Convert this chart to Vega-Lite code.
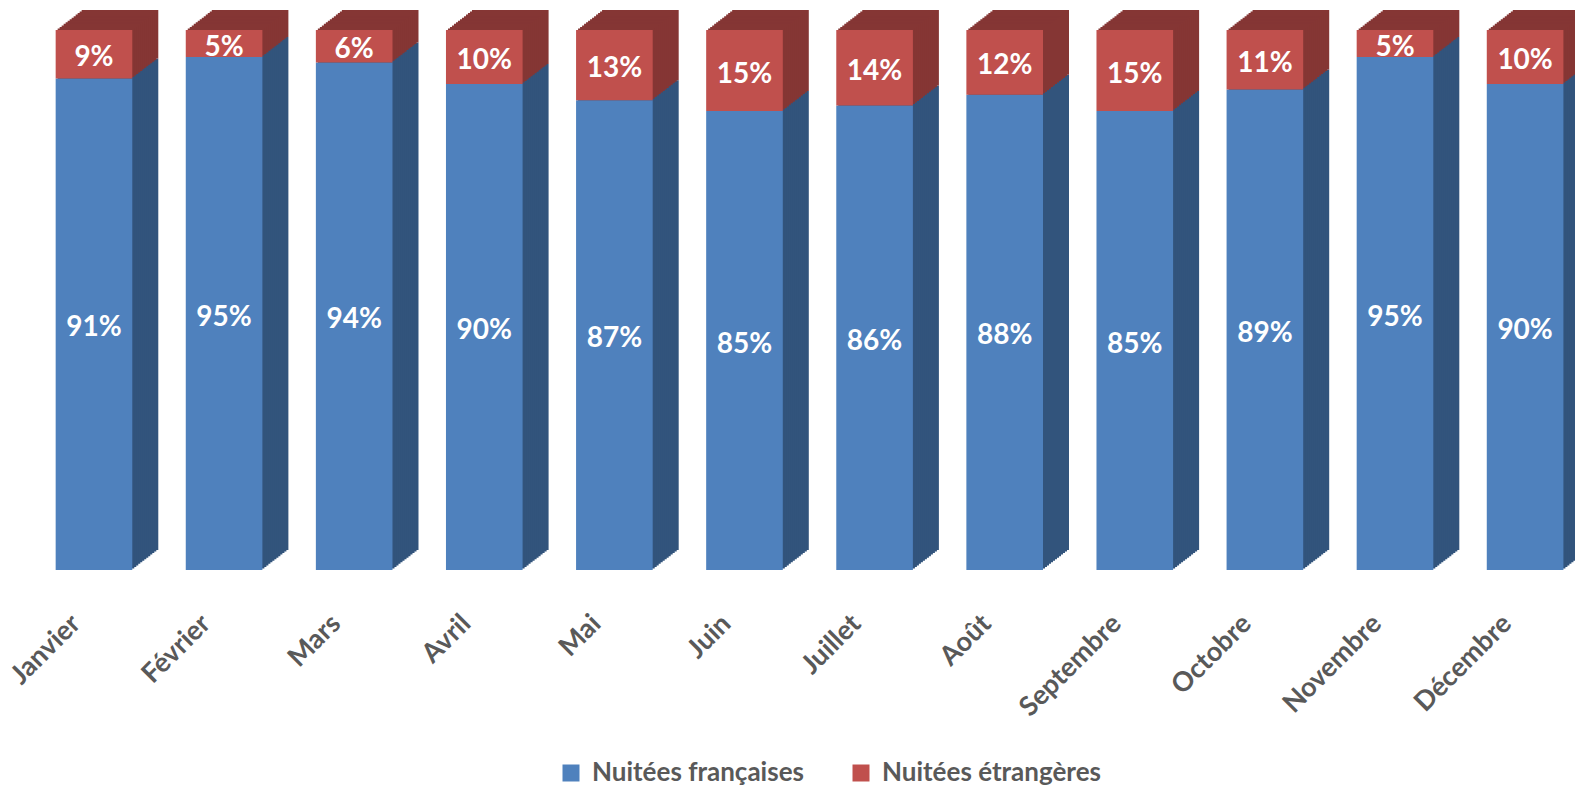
{
  "$schema": "https://vega.github.io/schema/vega-lite/v6.json",
  "autosize": "none",
  "width": 1546,
  "height": 540,
  "padding": {"left": 29, "top": 30, "right": 0, "bottom": 217},
  "background": "white",
  "config": {"view": {"stroke": null}},
  "data": {"values": [
    {"mois": "Janvier", "serie": "Nuitées françaises", "pct": 0.91},
    {"mois": "Janvier", "serie": "Nuitées étrangères", "pct": 0.09},
    {"mois": "Février", "serie": "Nuitées françaises", "pct": 0.95},
    {"mois": "Février", "serie": "Nuitées étrangères", "pct": 0.05},
    {"mois": "Mars", "serie": "Nuitées françaises", "pct": 0.94},
    {"mois": "Mars", "serie": "Nuitées étrangères", "pct": 0.06},
    {"mois": "Avril", "serie": "Nuitées françaises", "pct": 0.90},
    {"mois": "Avril", "serie": "Nuitées étrangères", "pct": 0.10},
    {"mois": "Mai", "serie": "Nuitées françaises", "pct": 0.87},
    {"mois": "Mai", "serie": "Nuitées étrangères", "pct": 0.13},
    {"mois": "Juin", "serie": "Nuitées françaises", "pct": 0.85},
    {"mois": "Juin", "serie": "Nuitées étrangères", "pct": 0.15},
    {"mois": "Juillet", "serie": "Nuitées françaises", "pct": 0.86},
    {"mois": "Juillet", "serie": "Nuitées étrangères", "pct": 0.14},
    {"mois": "Août", "serie": "Nuitées françaises", "pct": 0.88},
    {"mois": "Août", "serie": "Nuitées étrangères", "pct": 0.12},
    {"mois": "Septembre", "serie": "Nuitées françaises", "pct": 0.85},
    {"mois": "Septembre", "serie": "Nuitées étrangères", "pct": 0.15},
    {"mois": "Octobre", "serie": "Nuitées françaises", "pct": 0.89},
    {"mois": "Octobre", "serie": "Nuitées étrangères", "pct": 0.11},
    {"mois": "Novembre", "serie": "Nuitées françaises", "pct": 0.95},
    {"mois": "Novembre", "serie": "Nuitées étrangères", "pct": 0.05},
    {"mois": "Décembre", "serie": "Nuitées françaises", "pct": 0.90},
    {"mois": "Décembre", "serie": "Nuitées étrangères", "pct": 0.10}
  ]},
  "encoding": {
    "x": {
      "field": "mois", "type": "nominal",
      "sort": ["Janvier","Février","Mars","Avril","Mai","Juin","Juillet","Août","Septembre","Octobre","Novembre","Décembre"],
      "scale": {"paddingInner": 0.411, "paddingOuter": 0.147, "align": 0.697},
      "axis": {"title": null, "domain": false, "ticks": false, "labelAngle": -45, "labelFont": "Lato", "labelFontSize": 27, "labelFontWeight": "bold", "labelColor": "#595959", "labelPadding": 40, "labelOffset": -27, "labelLimit": 0}
    },
    "y": {"field": "pct", "type": "quantitative", "stack": "zero", "scale": {"domain": [0, 1], "nice": false}, "axis": null},
    "detail": {"field": "serie"},
    "order": {"field": "serie", "sort": "ascending"}
  },
  "layer": [
    {"mark": {"type": "bar", "xOffset": 26, "yOffset": -20}, "encoding": {"color": {"condition": {"test": "datum.serie === 'Nuitées étrangères'", "value": "#853634"}, "value": "#32547C"}}},
    {"mark": {"type": "bar", "xOffset": 24, "yOffset": -18.46}, "encoding": {"color": {"condition": {"test": "datum.serie === 'Nuitées étrangères'", "value": "#853634"}, "value": "#32547C"}}},
    {"mark": {"type": "bar", "xOffset": 22, "yOffset": -16.92}, "encoding": {"color": {"condition": {"test": "datum.serie === 'Nuitées étrangères'", "value": "#853634"}, "value": "#32547C"}}},
    {"mark": {"type": "bar", "xOffset": 20, "yOffset": -15.38}, "encoding": {"color": {"condition": {"test": "datum.serie === 'Nuitées étrangères'", "value": "#853634"}, "value": "#32547C"}}},
    {"mark": {"type": "bar", "xOffset": 18, "yOffset": -13.85}, "encoding": {"color": {"condition": {"test": "datum.serie === 'Nuitées étrangères'", "value": "#853634"}, "value": "#32547C"}}},
    {"mark": {"type": "bar", "xOffset": 16, "yOffset": -12.31}, "encoding": {"color": {"condition": {"test": "datum.serie === 'Nuitées étrangères'", "value": "#853634"}, "value": "#32547C"}}},
    {"mark": {"type": "bar", "xOffset": 14, "yOffset": -10.77}, "encoding": {"color": {"condition": {"test": "datum.serie === 'Nuitées étrangères'", "value": "#853634"}, "value": "#32547C"}}},
    {"mark": {"type": "bar", "xOffset": 12, "yOffset": -9.23}, "encoding": {"color": {"condition": {"test": "datum.serie === 'Nuitées étrangères'", "value": "#853634"}, "value": "#32547C"}}},
    {"mark": {"type": "bar", "xOffset": 10, "yOffset": -7.69}, "encoding": {"color": {"condition": {"test": "datum.serie === 'Nuitées étrangères'", "value": "#853634"}, "value": "#32547C"}}},
    {"mark": {"type": "bar", "xOffset": 8, "yOffset": -6.15}, "encoding": {"color": {"condition": {"test": "datum.serie === 'Nuitées étrangères'", "value": "#853634"}, "value": "#32547C"}}},
    {"mark": {"type": "bar", "xOffset": 6, "yOffset": -4.62}, "encoding": {"color": {"condition": {"test": "datum.serie === 'Nuitées étrangères'", "value": "#853634"}, "value": "#32547C"}}},
    {"mark": {"type": "bar", "xOffset": 4, "yOffset": -3.08}, "encoding": {"color": {"condition": {"test": "datum.serie === 'Nuitées étrangères'", "value": "#853634"}, "value": "#32547C"}}},
    {"mark": {"type": "bar", "xOffset": 2, "yOffset": -1.54}, "encoding": {"color": {"condition": {"test": "datum.serie === 'Nuitées étrangères'", "value": "#853634"}, "value": "#32547C"}}},
    {
      "mark": {"type": "bar"},
      "encoding": {
        "color": {
          "field": "serie", "type": "nominal",
          "scale": {"domain": ["Nuitées françaises", "Nuitées étrangères"], "range": ["#4F81BD", "#C0504D"]},
          "legend": {"orient": "none", "legendX": 529, "legendY": 730, "direction": "horizontal", "title": null, "symbolType": "square", "symbolSize": 289, "symbolStrokeWidth": 0, "labelFont": "Lato", "labelFontSize": 26, "labelFontWeight": "bold", "labelColor": "#595959", "labelOffset": 8, "labelLimit": 0, "columnPadding": 44}
        }
      }
    },
    {
      "mark": {"type": "text", "font": "Lato", "fontSize": 28, "fontWeight": "bold", "color": "white", "baseline": "middle", "dy": 4},
      "encoding": {
        "y": {"field": "pct", "type": "quantitative", "stack": "zero", "bandPosition": 0.5},
        "text": {"field": "pct", "type": "quantitative", "format": ".0%"}
      }
    }
  ]
}
